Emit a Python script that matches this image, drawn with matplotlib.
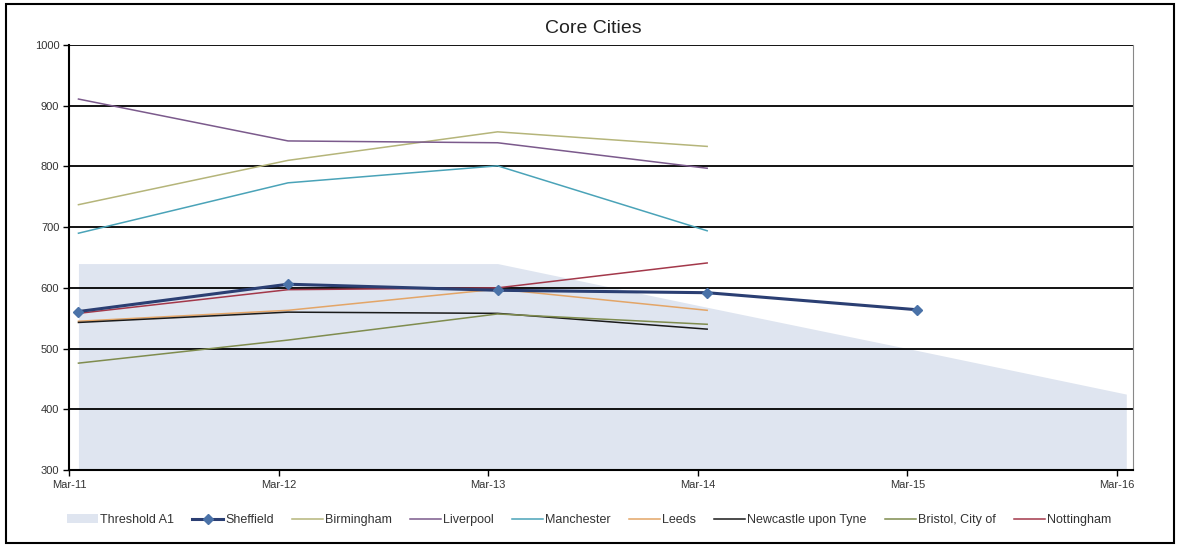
import numpy as np
import matplotlib
matplotlib.use("Agg")
import matplotlib.pyplot as plt
from matplotlib.patches import Rectangle

plt.rcParams['font.family'] = ['Liberation Sans', 'DejaVu Sans']

# year-end periods on the category axis
periods = ['Mar-11', 'Mar-12', 'Mar-13', 'Mar-14', 'Mar-15', 'Mar-16']

threshold_a1 = [640, 640, 640, 568, 497, 425]
sheffield = [561, 606, 596, 592, 564]
birmingham = [737, 810, 857, 833]
liverpool = [911, 842, 839, 797]
manchester = [690, 773, 801, 694]
leeds = [545, 563, 598, 563]
newcastle = [543, 560, 558, 532]
bristol = [476, 514, 557, 540]
nottingham = [558, 597, 600, 641]

cities = [
    ('Birmingham', birmingham, '#b5b57a'),
    ('Liverpool', liverpool, '#7b5a8c'),
    ('Manchester', manchester, '#4aa3b8'),
    ('Leeds', leeds, '#e3a567'),
    ('Newcastle upon Tyne', newcastle, '#1a1a1a'),
    ('Bristol, City of', bristol, '#7f8c4e'),
    ('Nottingham', nottingham, '#a3384a'),
]

# data points sit a little after each tick (end of March)
offset = 0.045
xpos = np.arange(len(periods))

fig = plt.figure(figsize=(11.8, 5.47), dpi=100)
fig.patches.append(Rectangle((0.005, 0.008), 0.99, 0.985, transform=fig.transFigure,
                             fill=False, edgecolor='black', linewidth=1.5))
ax = fig.add_axes([0.0585, 0.1408, 0.9015, 0.7769])

xt = xpos[:len(threshold_a1)] + offset
ax.fill_between(xt, 300, threshold_a1, color='#dfe5f0', linewidth=0, zorder=1,
                label='Threshold A1')

for y in range(400, 1001, 100):
    ax.axhline(y, color='black', linewidth=1.3, zorder=2)

for name, vals, col in cities:
    ax.plot(xpos[:len(vals)] + offset, vals, color=col, linewidth=1.1,
            zorder=3, label=name)

ax.plot(xpos[:len(sheffield)] + offset, sheffield, color='#2b3f73', linewidth=2.2,
        marker='D', markersize=5, markerfacecolor='#4a72a8',
        markeredgecolor='#4a72a8', zorder=4, label='Sheffield')

ax.set_xlim(0, 5.076)
ax.set_ylim(300, 1000)
ax.set_xticks(xpos)
ax.set_xticklabels(periods)
ax.set_yticks(range(300, 1001, 100))
ax.tick_params(axis='both', labelsize=8, length=4, width=1, colors='black',
               labelcolor='#333333', pad=3)

ax.spines['top'].set_visible(False)
ax.spines['right'].set_color('#888888')
ax.spines['left'].set_linewidth(1.5)
ax.spines['bottom'].set_linewidth(1.5)

fig.text(0.503, 0.947, 'Core Cities', ha='center', va='center', fontsize=14,
         color='#222222')

handles, labels = ax.get_legend_handles_labels()
order = ['Threshold A1', 'Sheffield', 'Birmingham', 'Liverpool', 'Manchester', 'Leeds',
         'Newcastle upon Tyne', 'Bristol, City of', 'Nottingham']
hmap = dict(zip(labels, handles))
leg = fig.legend([hmap[k] for k in order], order, loc='center', bbox_to_anchor=(0.499, 0.049),
                 ncol=9, frameon=False, fontsize=9, handlelength=2.5, handletextpad=0.15,
                 columnspacing=1.45)
for t in leg.get_texts():
    t.set_color('#333333')

fig.savefig('out.png', dpi=100)
